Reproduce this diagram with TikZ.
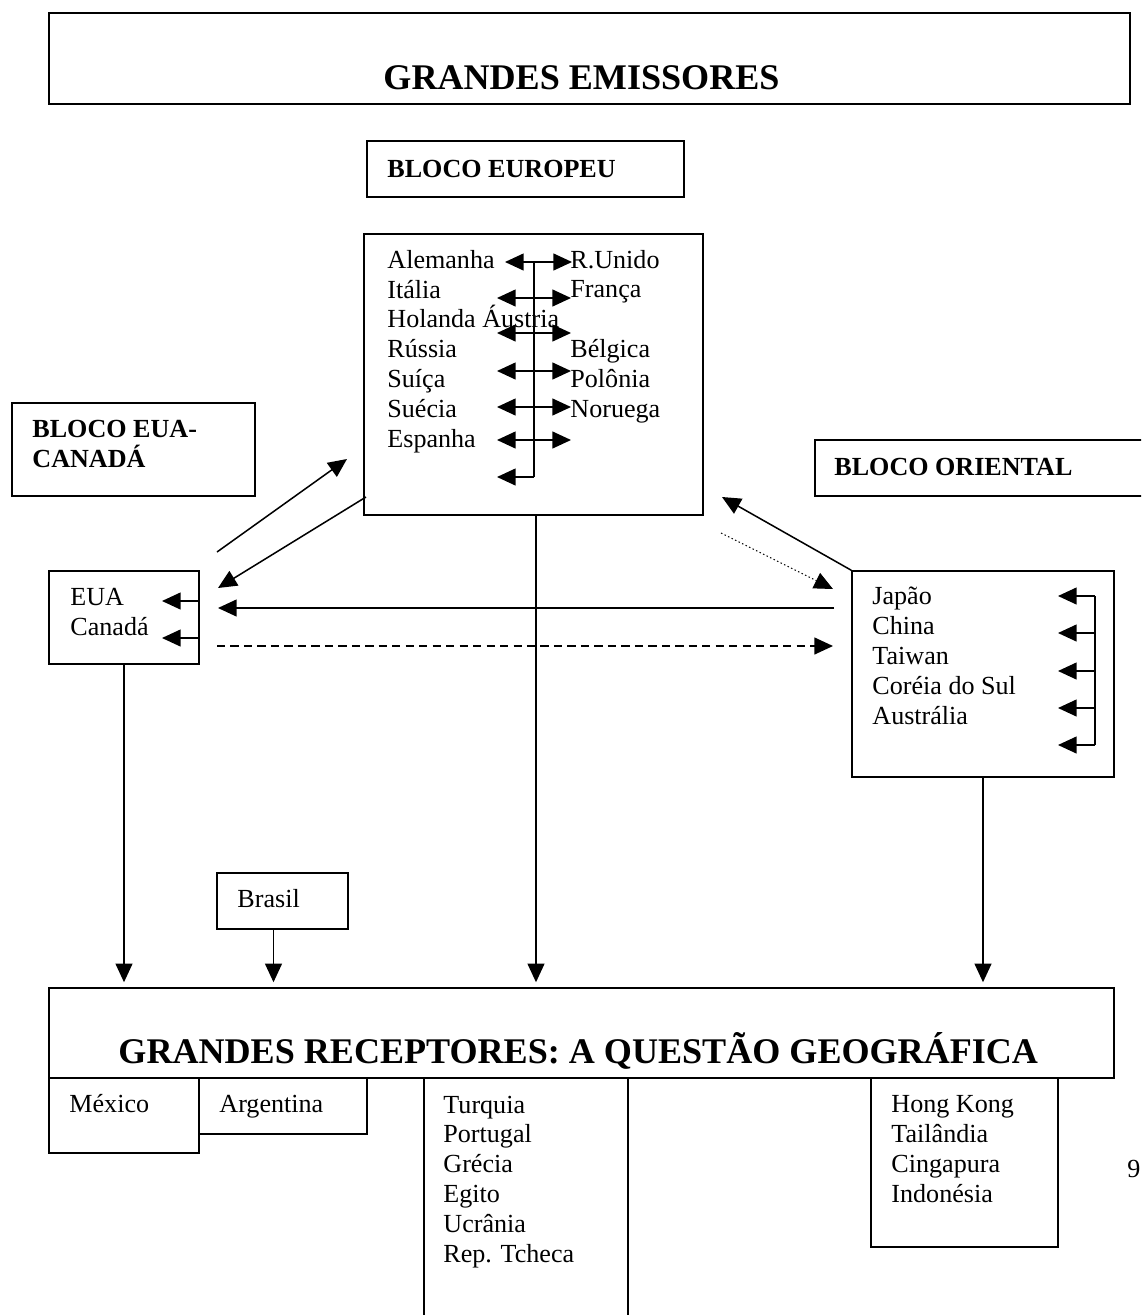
\documentclass[tikz,border=0pt]{standalone}
\usepackage{fontspec}
\setmainfont{Liberation Serif}
\usetikzlibrary{arrows.meta,fit,calc}

\begin{document}
\begin{tikzpicture}[x=0.46pt, y=-0.46pt,
    box/.style={draw, line width=0.7pt, inner sep=0pt},
    txt/.style={anchor=base west, inner sep=0pt, align=left, font=\fontsize{12}{13.7}\selectfont},
    head/.style={txt, font=\fontsize{12}{13.9}\selectfont\bfseries},
    big/.style={txt, font=\fontsize{16.6}{20}\selectfont\bfseries},
    arr/.style={-{Triangle[length=8.6pt, width=7.8pt]}, line width=0.7pt},
    dbl/.style={{Triangle[length=8.6pt, width=7.8pt]}-{Triangle[length=8.6pt, width=7.8pt]}, line width=0.7pt}]
    \clip (0,0) rectangle (1141,1315);

    % Boxes
    \node[box, line width=1pt, fit={(49,13) (1130,104)}] (emissores) {};
    \node[box, fit={(367,141) (684,197)}] (europeu) {};
    \node[box, fit={(364,234) (703,515)}] (europa) {};
    \node[box, fit={(12,403) (255,496)}] (euacan) {};
    \node[box, fit={(815,440) (1170,496)}] (oriental) {};
    \node[box, fit={(49,571) (199,664)}] (eua) {};
    \node[box, fit={(852,571) (1114,777)}] (asia) {};
    \node[box, fit={(217,873) (348,929)}] (brasil) {};
    \node[box, fit={(49,988) (1114,1078)}] (receptores) {};
    \node[box, fit={(49,1078) (199,1153)}] (mexico) {};
    \node[box, fit={(199,1078) (367,1134)}] (argentina) {};
    \node[box, fit={(424,1078) (628,1340)}] (turquia) {};
    \node[box, fit={(871,1078) (1058,1247)}] (hongkong) {};

    % Texts (multi-line ones sit on their last baseline)
    \node[big] (emissores-t) at (383,89) {GRANDES EMISSORES};
    \node[head] (europeu-t) at (387,177) {BLOCO EUROPEU};
    \node[txt] (europa-l) at (387,447) {Alemanha\\Itália\\Holanda Áustria\\Rússia\\Suíça\\Suécia\\Espanha};
    \node[txt] (europa-r) at (570,417) {R.Unido\\França\\\mbox{}\\Bélgica\\Polônia\\Noruega};
    \node[head, font=\fontsize{12}{13.8}\selectfont\bfseries] (euacan-t) at (32,467) {BLOCO EUA-\\CANADÁ};
    \node[head] (oriental-t) at (834,475) {BLOCO ORIENTAL};
    \node[txt] (eua-t) at (70,635) {EUA\\Canadá};
    \node[txt] (asia-t) at (872,724) {Japão\\China\\Taiwan\\Coréia do Sul\\Austrália};
    \node[txt] (brasil-t) at (237,907) {Brasil};
    \node[big] (receptores-t) at (118,1063) {GRANDES RECEPTORES: A QUESTÃO GEOGRÁFICA};
    \node[txt] (mexico-t) at (69,1112) {México};
    \node[txt] (argentina-t) at (219,1112) {Argentina};
    \node[txt] (turquia-t) at (443,1262) {Turquia\\Portugal\\Grécia\\Egito\\Ucrânia\\Rep. Tcheca};
    \node[txt] (hongkong-t) at (891,1202) {Hong Kong\\Tailândia\\Cingapura\\Indonésia};
    \node[txt] (pagina) at (1127,1177) {9};

    % Arrows inside the blocks
    \draw[line width=0.7pt] (534,262) -- (534,477);
    \foreach \y/\xa/\xb in {262/505/572, 298/497/571, 333/497/571, 371/497/571, 407/497/571, 440/497/571}
        \draw[dbl] (\xa,\y) -- (\xb,\y);
    \draw[arr] (534,477) -- (497,477);
    \draw[line width=0.7pt] (199,601) -- (199,638);
    \foreach \y in {601,638}
        \draw[arr] (199,\y) -- (162,\y);
    \draw[line width=0.7pt] (1095,596) -- (1095,745);
    \foreach \y in {596,633,671,708,745}
        \draw[arr] (1095,\y) -- (1058,\y);

    % Paths between blocks
    \coordinate (ue1) at (217,552);
    \coordinate (ue2) at (347,459);
    \coordinate (eu1) at (366,497);
    \coordinate (eu2) at (218,588);
    \coordinate (ae) at (722,497);
    \coordinate (ea1) at (721,533);
    \coordinate (ea2) at (833,589);
    \coordinate (h1) at (834,608);
    \coordinate (h2) at (218,608);
    \coordinate (d1) at (217,646);
    \coordinate (d2) at (833,646);
    \coordinate (b1) at ($(brasil.south)+(-9,0)$);
    \coordinate (e1) at ($(europa.south)+(2.5,0)$);
    \draw[arr] (ue1) -- (ue2);
    \draw[arr] (eu1) -- (eu2);
    \draw[arr] (asia.north west) -- (ae);
    \draw[arr, line width=0.5pt, dash pattern=on 0.7pt off 1.1pt] (ea1) -- (ea2);
    \draw[arr] (h1) -- (h2);
    \draw[arr, dash pattern=on 3.8pt off 2.4pt] (d1) -- (d2);
    \draw[arr, shorten >=2.3pt] (eua.south) -- (eua.south |- receptores.north);
    \draw[arr, shorten >=2.3pt] (e1) -- (e1 |- receptores.north);
    \draw[arr, shorten >=2.3pt] (asia.south) -- (asia.south |- receptores.north);
    \draw[arr, shorten >=2.3pt] (b1) -- (b1 |- receptores.north);
\end{tikzpicture}
\end{document}
